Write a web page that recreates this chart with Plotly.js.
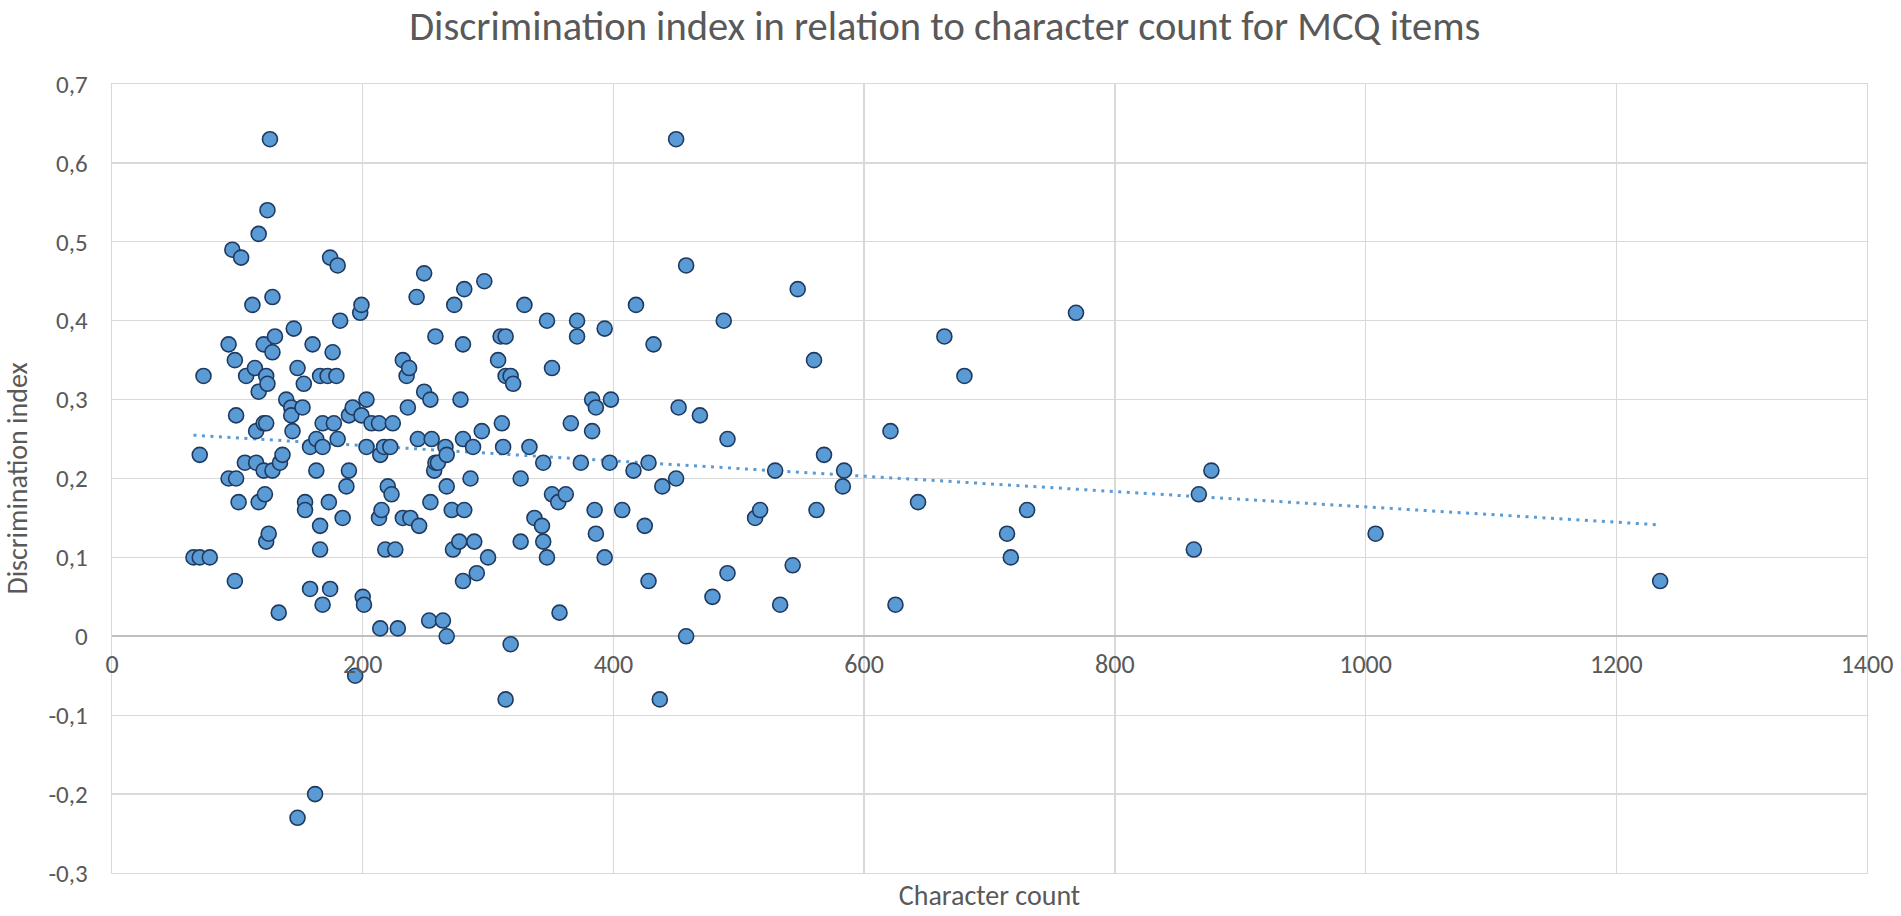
<!DOCTYPE html>
<html>
<head>
<meta charset="utf-8">
<script src="https://cdn.plot.ly/plotly-3.0.1.min.js"></script>
<style>html,body{margin:0;padding:0;background:#fff;}#chart{width:1901px;height:916px;}</style>
</head>
<body>
<div id="chart"></div>
<script>
const charCount = [65,70,78,70,73,93,98,96,103,93,99,99,98,101,106,107,112,114,115,115,117,117,117,121,121,121,122,123,123,124,124,126,123,125,128,128,128,130,133,134,136,139,143,143,144,145,148,148,152,153,154,154,158,158,160,162,163,163,166,166,166,168,168,168,172,173,174,174,176,177,179,180,180,182,184,187,189,189,192,194,198,199,199,200,201,203,203,207,213,213,214,214,215,217,218,220,222,223,224,226,228,232,232,235,236,237,238,243,244,245,249,249,253,254,254,255,257,258,258,260,264,266,267,267,267,271,272,273,277,278,280,280,280,281,281,286,288,289,291,295,297,300,308,310,311,312,314,314,314,318,318,320,326,326,329,333,337,343,344,344,347,347,351,351,356,357,362,366,371,371,374,383,383,385,386,386,393,393,397,398,407,416,418,425,428,428,432,437,439,450,450,452,458,458,469,479,488,491,491,513,517,529,533,543,547,560,562,568,583,584,621,625,643,664,680,714,717,730,769,863,867,877,1008,1235];
const discIndex = [0.10,0.10,0.10,0.23,0.33,0.37,0.35,0.49,0.48,0.20,0.20,0.28,0.07,0.17,0.22,0.33,0.42,0.34,0.22,0.26,0.31,0.51,0.17,0.37,0.27,0.21,0.18,0.33,0.27,0.32,0.54,0.63,0.12,0.13,0.21,0.43,0.36,0.38,0.03,0.22,0.23,0.30,0.29,0.28,0.26,0.39,0.34,-0.23,0.29,0.32,0.17,0.16,0.24,0.06,0.37,-0.20,0.25,0.21,0.33,0.14,0.11,0.27,0.24,0.04,0.33,0.17,0.06,0.48,0.36,0.27,0.33,0.25,0.47,0.40,0.15,0.19,0.21,0.28,0.29,-0.05,0.41,0.42,0.28,0.05,0.04,0.30,0.24,0.27,0.27,0.15,0.23,0.01,0.16,0.24,0.11,0.19,0.24,0.18,0.27,0.11,0.01,0.35,0.15,0.33,0.29,0.34,0.15,0.43,0.25,0.14,0.31,0.46,0.02,0.30,0.17,0.25,0.21,0.22,0.38,0.22,0.02,0.24,0.23,0.00,0.19,0.16,0.11,0.42,0.12,0.30,0.37,0.25,0.07,0.16,0.44,0.20,0.24,0.12,0.08,0.26,0.45,0.10,0.35,0.38,0.27,0.24,0.38,0.33,-0.08,0.33,-0.01,0.32,0.20,0.12,0.42,0.24,0.15,0.14,0.22,0.12,0.10,0.40,0.18,0.34,0.17,0.03,0.18,0.27,0.40,0.38,0.22,0.30,0.26,0.16,0.29,0.13,0.39,0.10,0.22,0.30,0.16,0.21,0.42,0.14,0.22,0.07,0.37,-0.08,0.19,0.20,0.63,0.29,0.47,0.00,0.28,0.05,0.40,0.25,0.08,0.15,0.16,0.21,0.04,0.09,0.44,0.35,0.16,0.23,0.19,0.21,0.26,0.04,0.17,0.38,0.33,0.13,0.10,0.16,0.41,0.11,0.18,0.21,0.13,0.07];
const xTickVals = [0,200,400,600,800,1000,1200,1400];
const xTickText = ['0','200','400','600','800','1000','1200','1400'];
const yTickVals = [-0.3,-0.2,-0.1,0,0.1,0.2,0.3,0.4,0.5,0.6,0.7];
const yTickText = ['-0,3','-0,2','-0,1','0','0,1','0,2','0,3','0,4','0,5','0,6','0,7'];
const chartTitle = 'Discrimination index in relation to character count for MCQ items';
const xTitle = 'Character count';
const yTitle = 'Discrimination index';

// linear trendline (least squares) from the data
const n = charCount.length;
let sx=0, sy=0, sxx=0, sxy=0;
for (let i=0;i<n;i++){sx+=charCount[i];sy+=discIndex[i];sxx+=charCount[i]*charCount[i];sxy+=charCount[i]*discIndex[i];}
const slope = (n*sxy - sx*sy)/(n*sxx - sx*sx);
const intercept = (sy - slope*sx)/n;
const xMin = Math.min(...charCount), xMax = Math.max(...charCount);
const trendX = [xMin, xMax];
const trendY = trendX.map(v => intercept + slope*v);

const txt = '#595959';
const font = 'Carlito, Calibri, Lato, sans-serif';
const grid = '#d9d9d9';

const traces = [
  {x: trendX, y: trendY, xaxis:'x', yaxis:'y', type:'scatter', mode:'lines', hoverinfo:'skip',
   line:{color:'#5B9BD5', width:3, dash:'3px,5.5px'}, showlegend:false},
  {x: charCount, y: discIndex, xaxis:'x2', yaxis:'y', type:'scatter', mode:'markers', showlegend:false,
   marker:{size:15, color:'#5B9BD5', line:{color:'#1F3A60', width:1.6}}}
];

const layout = {
  width:1901, height:916,
  paper_bgcolor:'#ffffff', plot_bgcolor:'#ffffff',
  margin:{l:112, r:34, t:84, b:43},
  font:{family:font, color:txt, size:26},
  title:{text:chartTitle, font:{family:font, size:40.5, color:txt}, x:0.497, xref:'container', y:1-26/916, yref:'container', yanchor:'middle', xanchor:'center'},
  xaxis:{range:[0,1400], tickvals:xTickVals, ticktext:xTickText, showticklabels:false, showgrid:true, gridcolor:grid, gridwidth:1.3,
         zeroline:false, showline:true, linecolor:grid, linewidth:1.3, mirror:true, ticks:'', fixedrange:true,
         title:{text:xTitle, font:{family:font, size:28, color:txt}, standoff:12}},
  xaxis2:{range:[0,1400], overlaying:'x', anchor:'free', position:0.3, tickvals:xTickVals, ticktext:xTickText,
          showgrid:false, zeroline:false, showline:false, ticks:'', ticklabelstandoff:10,
          tickfont:{family:font, size:26, color:txt}},
  yaxis:{range:[-0.3,0.7], tickvals:yTickVals, ticktext:yTickText, showgrid:true, gridcolor:grid, gridwidth:1.3,
         zeroline:true, zerolinecolor:'#bfbfbf', zerolinewidth:1.6, showline:true, linecolor:grid, linewidth:1.3, mirror:true,
         ticks:'', ticklabelstandoff:18,
         tickfont:{family:font, size:25, color:txt},
         title:{text:yTitle, font:{family:font, size:28, color:txt}, standoff:16}}
};

Plotly.newPlot('chart', traces, layout, {displayModeBar:false, staticPlot:true});
</script>
</body>
</html>
